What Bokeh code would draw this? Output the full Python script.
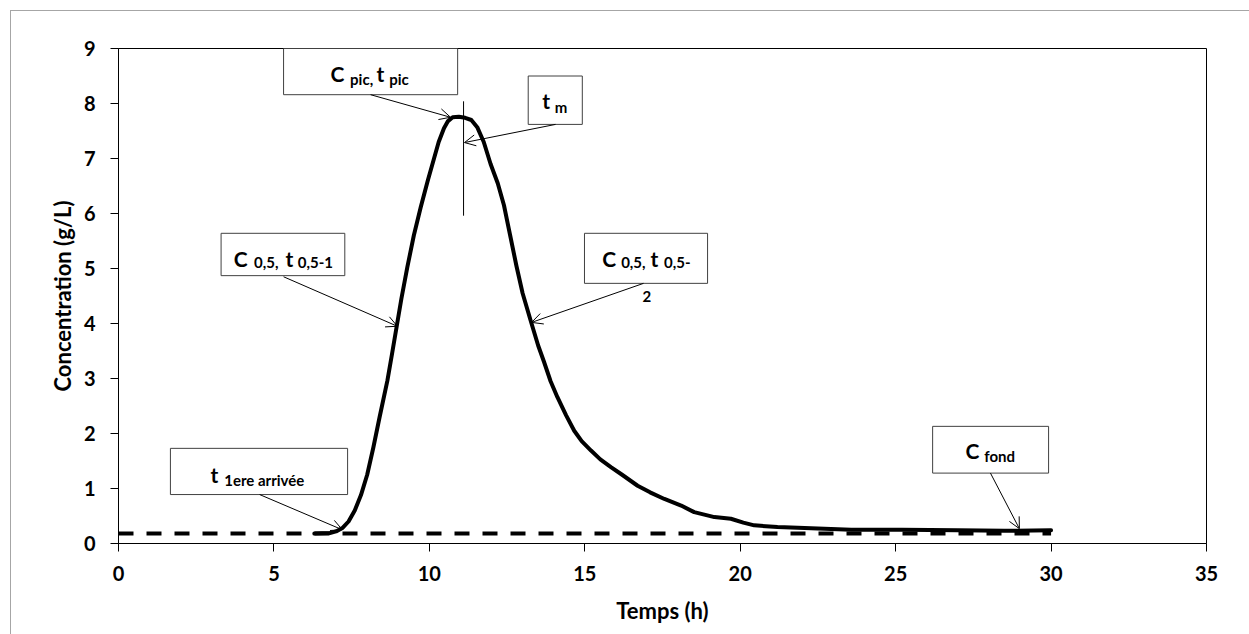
from bokeh.plotting import figure
from bokeh.models import (Range1d, FixedTicker, ColumnDataSource, Arrow, OpenHead)
from bokeh.core.properties import value
from bokeh.embed import file_html
from bokeh.resources import INLINE

# ---------------- data ----------------
time_h = [6.3, 6.8, 7.0, 7.2, 7.4, 7.6, 7.8, 8.0, 8.2, 8.4, 8.65, 8.8, 8.95, 9.1,
          9.29, 9.5, 9.72, 9.95, 10.15, 10.3, 10.47, 10.6, 10.75, 10.95, 11.15,
          11.35, 11.54, 11.75, 11.97, 12.2, 12.4, 12.6, 12.8, 13.0, 13.26, 13.5,
          13.69, 13.9, 14.12, 14.4, 14.66, 14.9, 15.2, 15.5, 15.84, 16.2, 16.7,
          17.1, 17.56, 18.1, 18.52, 19.17, 19.7, 20.1, 20.45, 21.2, 22.07, 23.57,
          25.2, 27.0, 28.5, 30.0]
conc_gL = [0.18, 0.19, 0.22, 0.28, 0.40, 0.60, 0.88, 1.25, 1.75, 2.30, 2.96, 3.45,
           3.95, 4.45, 5.02, 5.60, 6.11, 6.60, 7.00, 7.30, 7.55, 7.68, 7.75, 7.76,
           7.74, 7.70, 7.57, 7.30, 6.90, 6.55, 6.15, 5.60, 5.05, 4.55, 4.05, 3.60,
           3.30, 2.95, 2.66, 2.33, 2.05, 1.86, 1.69, 1.53, 1.39, 1.25, 1.05, 0.93,
           0.81, 0.69, 0.57, 0.48, 0.45, 0.38, 0.33, 0.30, 0.28, 0.25, 0.25, 0.24,
           0.23, 0.24]

baseline_t = [0, 30]
baseline_c = [0.18, 0.18]

x_ticks = [0, 5, 10, 15, 20, 25, 30, 35]
y_ticks = [0, 1, 2, 3, 4, 5, 6, 7, 8, 9]

# t_m marker line
tm_t = 11.1
tm_c_low, tm_c_high = 5.96, 8.04

# annotation boxes (left, right, top, bottom) in data units
box_left = [5.31, 13.18, 3.30, 14.99, 1.67, 26.19]
box_right = [10.91, 14.92, 7.28, 18.95, 7.37, 29.92]
box_top = [9.0, 8.50, 5.64, 5.64, 1.73, 2.13]
box_bottom = [8.16, 7.62, 4.87, 4.73, 0.89, 1.28]

# arrows: start -> end (data units)
arrow_x0 = [8.11, 14.06, 5.31, 16.89, 4.54, 28.05]
arrow_y0 = [8.16, 7.62, 4.85, 4.73, 0.89, 1.28]
arrow_x1 = [10.68, 11.13, 8.97, 13.29, 7.20, 28.98]
arrow_y1 = [7.75, 7.29, 3.95, 4.02, 0.25, 0.27]

# label pieces (main letters and subscripts)
label_text = ["C", "pic,", "t", "pic",
              "t", "m",
              "C", "0,5,", "t", "0,5-1",
              "C", "0,5,", "t", "0,5-", "2",
              "t", "1ere arrivée",
              "C", "fond"]
label_t = [6.82, 7.45, 8.30, 8.71,
           13.63, 14.03,
           3.71, 4.36, 5.37, 5.77,
           15.56, 16.17, 17.11, 17.55, 16.86,
           2.96, 3.40,
           27.25, 27.85]
label_c = [8.54, 8.44, 8.54, 8.44,
           8.06, 7.94,
           5.18, 5.11, 5.18, 5.11,
           5.18, 5.11, 5.18, 5.11, 4.50,
           1.26, 1.15,
           1.70, 1.59]
BIG, SMALL = "21px", "15px"
label_size = [BIG, SMALL, BIG, SMALL,
              BIG, SMALL,
              BIG, SMALL, BIG, SMALL,
              BIG, SMALL, BIG, SMALL, SMALL,
              BIG, SMALL,
              BIG, SMALL]

FONT = "Lato"

# ---------------- figure ----------------
p = figure(width=1249, height=634, output_backend="svg", toolbar_location=None,
           x_range=Range1d(0, 35), y_range=Range1d(0, 9),
           min_border_left=118, min_border_right=43, min_border_top=48,
           min_border_bottom=91)
p.background_fill_color = "white"
p.border_fill_color = "white"
p.outline_line_color = "black"
p.outline_line_width = 1
p.outline_line_alpha = 1
p.grid.visible = False

# outer chart border (light grey), drawn as an overlay on the figure element
p.stylesheets = [":host::after { content: ''; position: absolute; left: 10px; top: 10px;"
                 " right: 0px; bottom: 0px; border-left: 1.5px solid #a6a6a6;"
                 " border-top: 1.5px solid #a6a6a6; pointer-events: none; z-index: 5; }"]

for ax, ticks in ((p.xaxis[0], x_ticks), (p.yaxis[0], y_ticks)):
    ax.ticker = FixedTicker(ticks=ticks)
    ax.minor_tick_line_color = None
    ax.major_tick_in = 0
    ax.major_tick_out = 8
    ax.major_tick_line_color = "black"
    ax.axis_line_color = "black"
    ax.major_label_text_font = FONT
    ax.major_label_text_font_style = "bold"
    ax.major_label_text_font_size = "20px"
    ax.major_label_text_color = "black"
    ax.axis_label_text_font = FONT
    ax.axis_label_text_font_style = "bold"
    ax.axis_label_text_font_size = "22px"
    ax.axis_label_text_color = "black"

p.xaxis.axis_label = "Temps (h)"
p.yaxis.axis_label = "Concentration (g/L)"
p.xaxis.major_label_standoff = 14
p.yaxis.major_label_standoff = 15
p.xaxis.axis_label_standoff = 13
p.yaxis.axis_label_standoff = 5

# background concentration dashed line
p.line(baseline_t, baseline_c, line_color="black", line_width=4,
       line_dash="15 13")

# breakthrough curve
p.line(time_h, conc_gL, line_color="black", line_width=4, line_join="round",
       line_cap="round")

# t_m vertical marker
p.segment(x0=[tm_t], y0=[tm_c_low], x1=[tm_t], y1=[tm_c_high],
          line_color="black", line_width=1)

# label boxes
p.quad(left=box_left, right=box_right, top=box_top, bottom=box_bottom,
       fill_color="white", line_color="#404040", line_width=1)

# arrows
for xs, ys, xe, ye in zip(arrow_x0, arrow_y0, arrow_x1, arrow_y1):
    p.add_layout(Arrow(end=OpenHead(size=11, line_width=1, line_color="black"),
                       x_start=xs, y_start=ys, x_end=xe, y_end=ye,
                       line_color="black", line_width=1))

# label texts
src = ColumnDataSource(dict(x=label_t, y=label_c, text=label_text, size=label_size))
p.text(x="x", y="y", text="text", source=src, text_font=value(FONT),
       text_font_style="bold", text_font_size="size", text_align="left",
       text_baseline="alphabetic", text_color="black")

open("out.html", "w").write(file_html(p, INLINE))
